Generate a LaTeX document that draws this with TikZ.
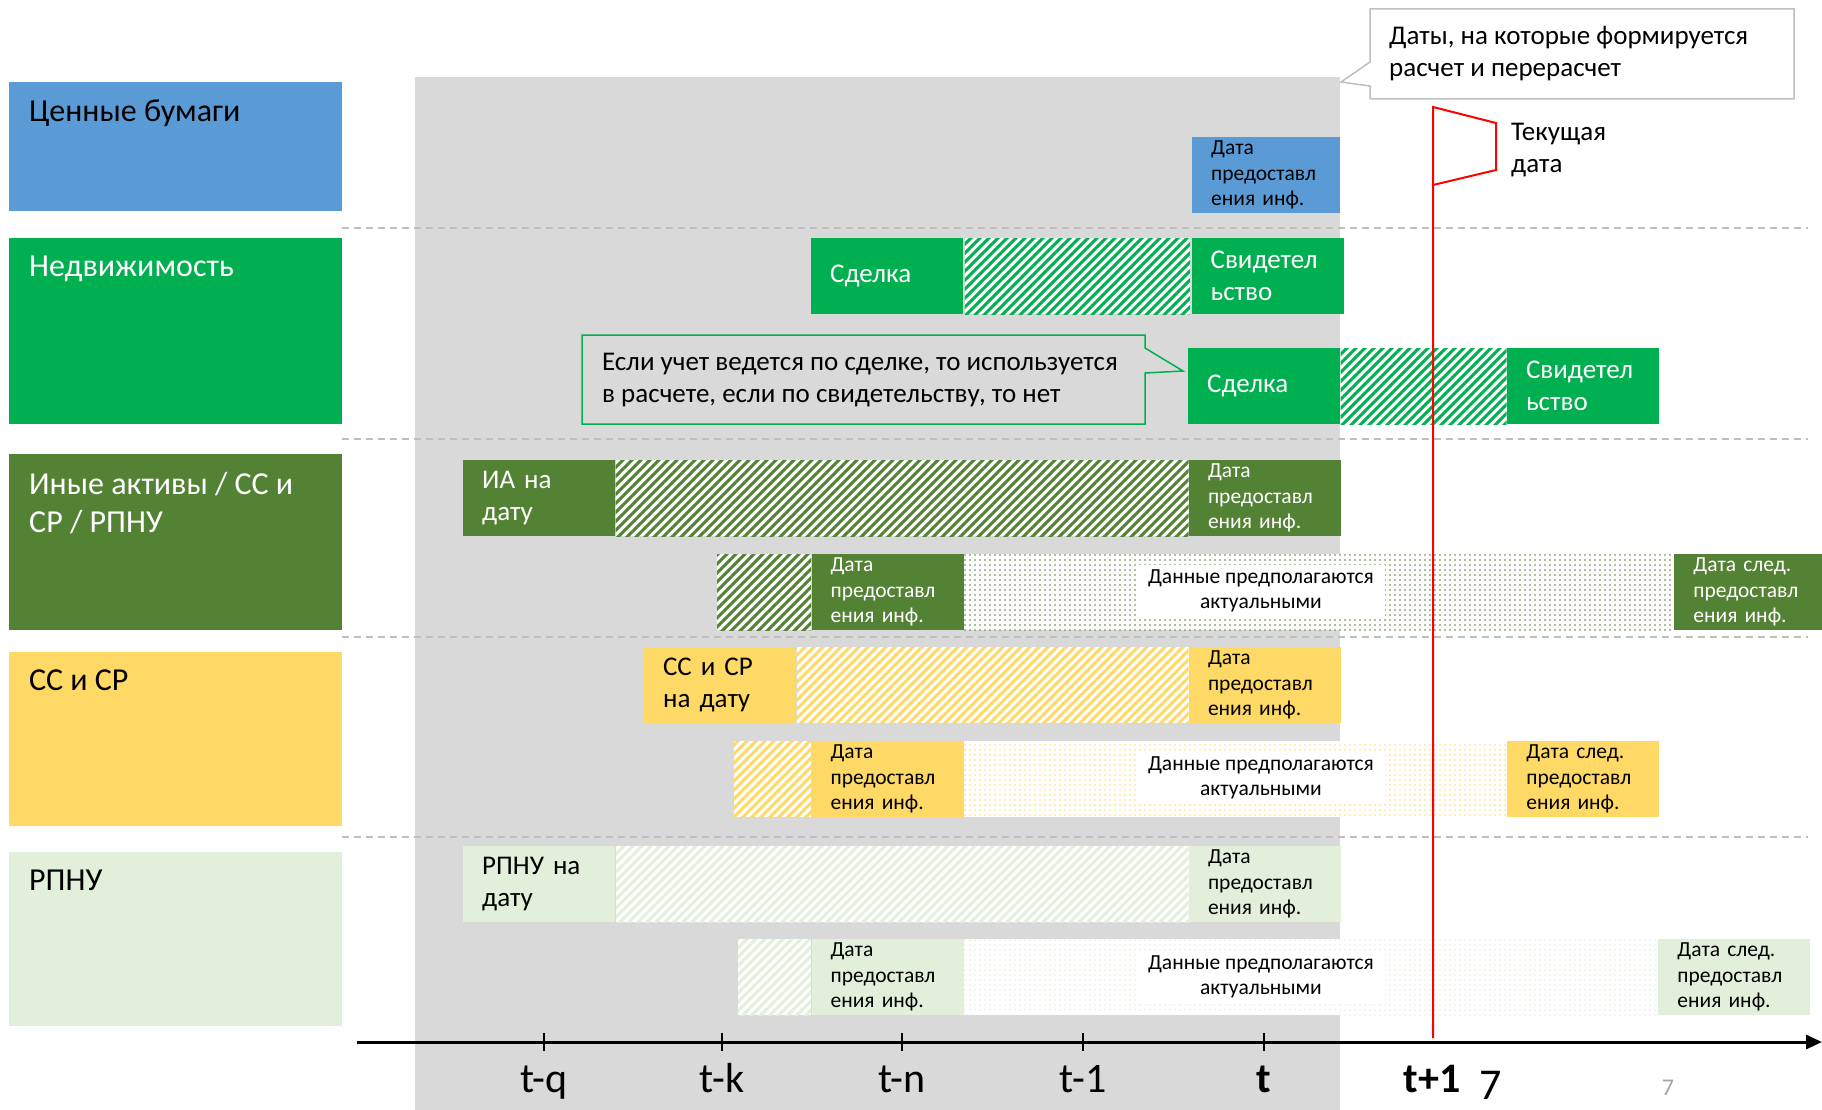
\documentclass[tikz,border=0pt]{standalone}
\usepackage{fontspec}
\setmainfont{Carlito}
\usetikzlibrary{arrows.meta,positioning,patterns.meta}
\definecolor{fonSery}{HTML}{D9D9D9}
\definecolor{liniyaSery}{HTML}{BFBFBF}
\definecolor{cbBlue}{HTML}{5B9BD5}
\definecolor{cbGreen}{HTML}{00B050}
\definecolor{cbDark}{HTML}{548235}
\definecolor{cbYellow}{HTML}{FFD966}
\definecolor{cbLight}{HTML}{E2EFDA}
\tikzset{
>={Triangle[length=16pt,width=14pt]},
kategoriya/.style={anchor=north west,minimum width=333pt,inner sep=0pt},
kattekst/.style={anchor=north west,inner xsep=20pt,inner ysep=18pt,align=left,font=\fontsize{32}{38}\selectfont},
plashka/.style={anchor=north west,minimum height=76pt,text width=114pt,inner xsep=19pt,inner ysep=0pt,align=left,font=\fontsize{21.5}{25.5}\selectfont},
krupno/.style={font=\fontsize{27}{32}\selectfont},
shtrih/.style={anchor=north west,minimum height=76pt,inner sep=0pt,preaction={fill=white},pattern={Lines[angle=45,distance=6.364pt,line width=3pt]}},
tochki/.style={anchor=north west,minimum height=76pt,inner sep=0pt,preaction={fill=white},pattern={Dots[distance=5pt,radius=0.9pt]}},
aktual/.style={fill=white,minimum width=248pt,minimum height=52pt,inner sep=0pt,align=center,font=\fontsize{21.5}{25.5}\selectfont},
razdel/.style={liniyaSery,line width=2pt,dash pattern=on 7pt off 5pt},
metka/.style={anchor=base,font=\fontsize{42}{42}\selectfont},
zhirno/.style={anchor=base,font=\fontsize{42}{42}\selectfont\bfseries}}

\begin{document}
\begin{tikzpicture}[x=1pt,y=-1pt]

\path[fill=white,use as bounding box] (0,0) rectangle (1822,1110);
\fill[fonSery] (415,77) rectangle (1340,1110);
\foreach \y in {228,439,637,837}
  \draw[razdel] (342,\y) -- (1808,\y);

% категории
\node[kategoriya,fill=cbBlue,minimum height=129pt,label={[kattekst]north west:Ценные бумаги}] (kat1) at (9,82) {};
\node[kategoriya,fill=cbGreen,minimum height=186pt,label={[kattekst,text=white]north west:Недвижимость}] (kat2) at (9,238) {};
\node[kategoriya,fill=cbDark,minimum height=176pt,label={[kattekst,text=white]north west:{Иные активы / СС и\\СР / РПНУ}}] (kat3) at (9,454) {};
\node[kategoriya,fill=cbYellow,minimum height=174pt,label={[kattekst]north west:СС и СР}] (kat4) at (9,652) {};
\node[kategoriya,fill=cbLight,minimum height=174pt,label={[kattekst]north west:РПНУ}] (kat5) at (9,852) {};

% ценные бумаги
\node[plashka,fill=cbBlue,text width=110pt] (cb1) at (1192,137) {Дата\\предоставл\\ения инф.};

% недвижимость
\node[plashka,krupno,fill=cbGreen,text=white] (nd1) at (811,238) {Сделка};
\node[shtrih,pattern color=cbGreen,minimum width=225pt,right=0pt of nd1] (nd2) {};
\node[plashka,krupno,fill=cbGreen,text=white,right=0pt of nd2] (nd3) {Свидетел\\ьство};
\node[plashka,krupno,fill=cbGreen,text=white] (nd4) at (1188,348) {Сделка};
\node[shtrih,pattern color=cbGreen,minimum width=166pt,right=0pt of nd4] (nd5) {};
\node[plashka,krupno,fill=cbGreen,text=white,right=0pt of nd5] (nd6) {Свидетел\\ьство};

\draw[cbGreen,line width=1.5pt,fill=fonSery] (582,335) -- (1145,335) -- (1145,348) -- (1183,371)
  -- (1145,373) -- (1145,424) -- (582,424) -- cycle;
\node[krupno,anchor=west,align=left,inner sep=0pt] (prim) at (602,380)
  {Если учет ведется по сделке, то используется\\в расчете, если по свидетельству, то нет};

% иные активы
\node[plashka,krupno,fill=cbDark,text=white] (ia1) at (463,460) {ИА на\\дату};
\node[shtrih,pattern color=cbDark,minimum width=573pt,right=0pt of ia1] (ia2) {};
\node[plashka,fill=cbDark,text=white,right=0pt of ia2] (ia3) {Дата\\предоставл\\ения инф.};
\node[shtrih,pattern color=cbDark,minimum width=94pt] (ia4) at (717,554) {};
\node[plashka,fill=cbDark,text=white,right=0pt of ia4] (ia5) {Дата\\предоставл\\ения инф.};
\node[tochki,pattern color=cbDark,minimum width=710pt,right=0pt of ia5] (ia6) {};
\node[plashka,fill=cbDark,text=white,right=0pt of ia6] (ia7) {Дата след.\\предоставл\\ения инф.};
\node[aktual] (ia8) at (1261,591) {Данные предполагаются\\актуальными};

% СС и СР
\node[plashka,krupno,fill=cbYellow] (ss1) at (644,647) {СС и СР\\на дату};
\node[shtrih,pattern color=cbYellow,minimum width=392pt,right=0pt of ss1] (ss2) {};
\node[plashka,fill=cbYellow,right=0pt of ss2] (ss3) {Дата\\предоставл\\ения инф.};
\node[shtrih,pattern color=cbYellow,minimum width=77pt] (ss4) at (734,741) {};
\node[plashka,fill=cbYellow,right=0pt of ss4] (ss5) {Дата\\предоставл\\ения инф.};
\node[tochki,pattern color=cbYellow,minimum width=543pt,right=0pt of ss5] (ss6) {};
\node[plashka,fill=cbYellow,right=0pt of ss6] (ss7) {Дата след.\\предоставл\\ения инф.};
\node[aktual] (ss8) at (1261,778) {Данные предполагаются\\актуальными};

% РПНУ
\node[plashka,krupno,fill=cbLight] (rp1) at (463,846) {РПНУ на\\дату};
\node[shtrih,pattern color=cbLight,minimum width=573pt,right=0pt of rp1] (rp2) {};
\node[plashka,fill=cbLight,right=0pt of rp2] (rp3) {Дата\\предоставл\\ения инф.};
\node[shtrih,pattern color=cbLight,minimum width=73pt] (rp4) at (738,939) {};
\node[plashka,fill=cbLight,right=0pt of rp4] (rp5) {Дата\\предоставл\\ения инф.};
\node[tochki,pattern color=cbLight,minimum width=694pt,right=0pt of rp5] (rp6) {};
\node[plashka,fill=cbLight,right=0pt of rp6] (rp7) {Дата след.\\предоставл\\ения инф.};
\node[aktual] (rp8) at (1261,977) {Данные предполагаются\\актуальными};

% выноска сверху
\draw[liniyaSery,line width=1.5pt,fill=white] (1370,9) -- (1794,9) -- (1794,99) -- (1370,99)
  -- (1370,86) -- (1341,82) -- (1370,62) -- cycle;
\node[krupno,anchor=west,align=left,inner sep=0pt] (daty) at (1389,54)
  {Даты, на которые формируется\\расчет и перерасчет};

% ось времени
\coordinate (nachalo) at (357,1042);
\coordinate (konec) at (1822,1042);
\draw[line width=3pt,->] (nachalo) -- (konec);
\foreach \x/\m [count=\i] in {544/t-q,722/t-k,902/t-n,1083/t-1} {
  \draw[line width=1.5pt] (\x,1033) -- (\x,1051);
  \node[metka] (m\i) at (\x,1092) {\m};
}
\draw[line width=1.5pt] (1264,1033) -- (1264,1051);
\node[zhirno] (m5) at (1264,1092) {t};
\node[zhirno] (m6) at (1432,1092) {t+1};
\node[anchor=base,font=\fontsize{44}{44}\selectfont] (sem) at (1491,1099) {7};
\node[anchor=base,text=gray!70,font=\fontsize{24}{24}\selectfont] (nomer) at (1668,1095) {7};

% текущая дата
\draw[red,line width=2pt] (1433,1038) -- (1433,107) -- (1496,123) -- (1496,170) -- (1433,185);
\node[krupno,anchor=west,align=left,inner sep=0pt] (tekush) at (1511,150) {Текущая\\дата};

\end{tikzpicture}
\end{document}
